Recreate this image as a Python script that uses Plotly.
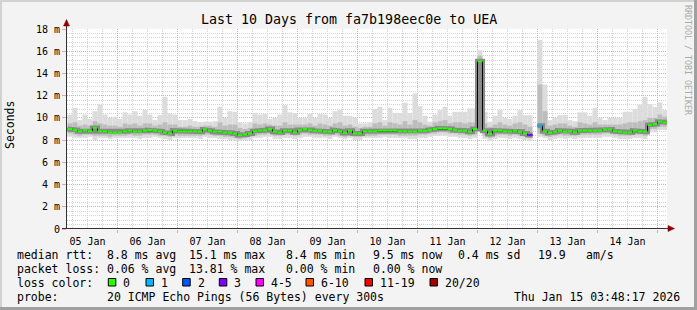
import plotly.graph_objects as go
import pandas as pd

# ---------------- data ----------------
TITLE = "Last 10 Days from fa7b198eec0e to UEA"
RANGE_START = "2026-01-05 03:48:17"
RANGE_END = "2026-01-15 03:48:17"
SAMPLE_START = "2026-01-05 04:00:00"
STEP_HOURS = 2

# median RTT per 2 h step (ms)
median_ms = [
    9.0, 8.9, 8.8, 8.9, 8.8, 9.1, 8.8, 8.8, 8.7, 8.7, 8.7, 8.8,
    8.85, 8.75, 8.75, 8.85, 8.9, 8.85, 8.8, 8.7, 8.6, 8.85, 8.8, 8.8,
    8.8, 8.8, 8.75, 8.95, 8.85, 8.75, 8.75, 8.7, 8.65, 8.6, 8.45, 8.5,
    8.6, 8.8, 8.85, 8.9, 9.0, 8.75, 8.7, 8.85, 8.85, 8.7, 8.9, 9.0,
    8.9, 8.85, 8.85, 8.75, 8.75, 8.9, 8.8, 8.65, 8.85, 8.6, 8.6, 8.8,
    8.8, 8.8, 8.85, 8.85, 8.85, 8.85, 8.8, 8.8, 8.75, 8.75, 8.85, 8.85,
    8.9, 9.0, 9.05, 9.05, 9.0, 8.9, 8.85, 8.85, 8.75, 9.0, 15.1, 8.85,
    8.55, 8.85, 8.85, 8.8, 8.75, 8.85, 8.75, 8.6, 8.45, None, 9.3, 8.8,
    8.65, 8.75, 8.85, 8.75, 8.8, 8.7, 8.85, 8.85, 8.85, 8.85, 8.85, 8.95,
    8.95, 8.8, 8.75, 8.7, 8.7, 8.85, 8.8, 8.75, 9.35, 9.45, 9.65, 9.6,
]
# lost pings out of 20 per step
loss_pings = [
    0, 0, 0, 0, 0, 0, 0, 0, 0, 0, 0, 0,
    0, 0, 0, 0, 0, 0, 0, 0, 0, 0, 0, 0,
    0, 0, 0, 0, 0, 0, 0, 0, 0, 0, 0, 0,
    0, 0, 0, 0, 0, 0, 0, 0, 0, 0, 0, 0,
    0, 0, 0, 0, 0, 0, 0, 0, 0, 0, 0, 0,
    0, 0, 0, 0, 0, 0, 0, 0, 0, 0, 0, 0,
    0, 0, 0, 0, 0, 0, 0, 0, 0, 0, 0, 0,
    0, 0, 0, 0, 0, 0, 0, 0, 3, None, 1, 0,
    0, 0, 0, 0, 0, 0, 0, 0, 0, 0, 0, 0,
    0, 0, 0, 0, 0, 0, 0, 0, 0, 0, 0, 0,
]
# smoke: fastest ping, lower/upper inner band, slowest ping (ms)
min_ms = [
    8.3, 8.2, 8.2, 8.2, 8.3, 8.0, 8.2, 8.2, 8.1, 8.2, 8.2, 8.2,
    8.2, 8.2, 8.1, 8.2, 8.2, 8.3, 8.2, 8.1, 8.0, 8.2, 8.2, 8.2,
    8.2, 8.2, 8.1, 8.3, 8.2, 8.2, 8.1, 8.1, 8.0, 7.9, 7.9, 8.0,
    8.0, 8.2, 8.2, 8.3, 8.3, 8.1, 8.1, 8.2, 8.2, 8.1, 8.2, 8.3,
    8.3, 8.2, 8.2, 8.2, 8.1, 8.3, 8.2, 8.1, 8.2, 8.0, 8.0, 8.2,
    8.2, 8.2, 8.2, 8.3, 8.2, 8.2, 8.2, 8.2, 8.1, 8.1, 8.2, 8.2,
    8.3, 8.4, 8.4, 8.4, 8.3, 8.3, 8.2, 8.2, 8.1, 8.2, 8.8, 8.1,
    7.9, 8.1, 8.2, 8.2, 8.1, 8.2, 8.1, 8.0, 7.9, None, 8.3, 8.2,
    8.0, 8.1, 8.2, 8.1, 8.2, 8.1, 8.2, 8.2, 8.2, 8.2, 8.2, 8.3,
    8.3, 8.2, 8.1, 8.1, 8.1, 8.2, 8.2, 8.1, 8.7, 8.7, 8.9, 8.9,
]
low_ms = [
    8.6, 8.5, 8.4, 8.5, 8.5, 8.4, 8.4, 8.4, 8.3, 8.4, 8.4, 8.4,
    8.5, 8.4, 8.4, 8.5, 8.5, 8.5, 8.4, 8.4, 8.3, 8.5, 8.4, 8.4,
    8.4, 8.4, 8.4, 8.5, 8.5, 8.4, 8.4, 8.3, 8.3, 8.2, 8.1, 8.2,
    8.3, 8.4, 8.5, 8.5, 8.6, 8.4, 8.4, 8.5, 8.5, 8.4, 8.5, 8.6,
    8.5, 8.5, 8.5, 8.4, 8.4, 8.5, 8.4, 8.3, 8.5, 8.3, 8.3, 8.4,
    8.4, 8.4, 8.5, 8.5, 8.5, 8.5, 8.4, 8.4, 8.4, 8.4, 8.5, 8.5,
    8.6, 8.6, 8.7, 8.7, 8.6, 8.6, 8.5, 8.5, 8.4, 8.5, 8.9, 8.4,
    8.2, 8.4, 8.5, 8.5, 8.4, 8.5, 8.4, 8.3, 8.2, None, 8.6, 8.4,
    8.3, 8.4, 8.5, 8.4, 8.4, 8.4, 8.5, 8.5, 8.5, 8.5, 8.5, 8.6,
    8.6, 8.5, 8.4, 8.4, 8.4, 8.5, 8.5, 8.4, 9.0, 9.0, 9.2, 9.2,
]
high_ms = [
    9.5, 9.6, 9.3, 9.4, 9.3, 9.7, 9.5, 9.4, 9.3, 9.3, 9.2, 9.5,
    9.4, 9.5, 9.3, 9.5, 9.5, 9.3, 9.4, 9.6, 9.4, 9.4, 9.2, 9.2,
    9.3, 9.2, 9.2, 9.3, 9.3, 9.2, 9.6, 9.3, 9.4, 9.4, 9.1, 9.0,
    9.1, 9.5, 9.4, 9.5, 9.4, 9.3, 9.3, 9.6, 9.4, 9.4, 9.4, 9.4,
    9.5, 9.3, 9.5, 9.4, 9.3, 9.5, 9.6, 9.3, 9.4, 9.2, 9.1, 9.2,
    9.2, 9.5, 9.6, 9.3, 9.6, 9.5, 9.4, 9.7, 9.4, 9.8, 9.6, 9.4,
    9.3, 9.6, 9.7, 9.8, 9.5, 9.6, 9.6, 9.5, 9.6, 9.6, 15.6, 9.5,
    9.2, 9.4, 9.6, 9.4, 9.3, 9.5, 9.6, 9.4, 9.2, None, 13.0, 10.6,
    9.3, 9.4, 9.5, 9.5, 9.3, 9.2, 9.6, 9.5, 9.4, 9.6, 9.4, 9.4,
    9.4, 9.4, 9.4, 9.5, 9.6, 9.6, 9.7, 9.8, 10.0, 10.0, 10.3, 10.1,
]
max_ms = [
    10.3, 10.9, 9.8, 10.3, 9.9, 10.6, 11.2, 10.3, 10.0, 10.1, 9.9, 10.5,
    10.3, 10.6, 10.2, 10.7, 10.3, 9.8, 10.25, 11.9, 10.4, 10.3, 9.8, 9.8,
    9.9, 9.7, 9.6, 9.65, 9.65, 9.7, 11.0, 10.0, 10.6, 10.55, 9.6, 9.5,
    9.6, 10.45, 10.3, 10.35, 9.9, 10.0, 10.3, 11.15, 10.5, 10.4, 10.0, 10.0,
    10.35, 10.0, 10.35, 10.3, 10.0, 10.6, 10.7, 10.2, 10.2, 10.0, 9.5, 9.5,
    9.6, 10.8, 11.0, 9.8, 10.9, 10.45, 10.45, 11.35, 10.45, 12.2, 11.05, 10.2,
    9.65, 10.3, 10.7, 11.0, 10.2, 10.55, 10.55, 10.55, 10.85, 10.85, 16.1, 10.55,
    9.65, 10.2, 10.7, 10.0, 9.9, 10.2, 10.7, 10.25, 10.25, None, 17.0, 13.0,
    9.8, 10.0, 10.25, 10.25, 9.8, 9.7, 10.5, 10.5, 10.2, 10.9, 10.0, 9.8,
    10.0, 10.0, 10.0, 10.55, 10.55, 10.8, 11.2, 11.9, 11.25, 11.0, 11.4, 10.7,
]

y_tick_vals = [0, 2, 4, 6, 8, 10, 12, 14, 16, 18]
y_tick_text = ["0", "2 m", "4 m", "6 m", "8 m", "10 m", "12 m", "14 m", "16 m", "18 m"]

loss_legend_labels = ["0", "1", "2", "3", "4-5", "6-10", "11-19", "20/20"]
loss_legend_colors = ["#26ff00", "#00b8ff", "#0059ff", "#7e00ff",
                      "#ff00ff", "#ff5500", "#ff0000", "#a00000"]
loss_legend_upper = [0, 1, 2, 3, 5, 10, 19, 20]

stats_rtt = ["median rtt:", "8.8 ms avg", "15.1 ms max", "8.4 ms min",
             "9.5 ms now", "0.4 ms sd", "19.9", "am/s"]
stats_loss = ["packet loss:", "0.06 % avg", "13.81 % max", "0.00 % min", "0.00 % now"]
probe_text = ["probe:", "20 ICMP Echo Pings (56 Bytes) every 300s", "Thu Jan 15 03:48:17 2026"]

# ---------------- geometry ----------------
W, H = 697, 310
ML, MR, MT, MB = 67, 30, 29, 81
PW, PH = W - ML - MR, H - MT - MB
MONO = "DejaVu Sans Mono"


def fx(p):
    return (p - ML) / PW


def fy(p):
    return (H - MB - p) / PH


step = pd.Timedelta(hours=STEP_HOURS)
n = len(median_ms)
edges = pd.date_range(SAMPLE_START, periods=n + 1, freq=f"{STEP_HOURS}h")
centers = edges[:-1] + step / 2
step_ms = STEP_HOURS * 3600 * 1000


def loss_color(l):
    for up, c in zip(loss_legend_upper, loss_legend_colors):
        if l <= up:
            return c
    return loss_legend_colors[-1]


fig = go.Figure()

# smoke bands
for lo_arr, hi_arr, col in [(min_ms, max_ms, "#dcdcdc"), (low_ms, high_ms, "#bdbdbd")]:
    fig.add_trace(go.Bar(
        x=centers, base=lo_arr,
        y=[None if (a is None or b is None) else b - a for a, b in zip(lo_arr, hi_arr)],
        width=step_ms, marker=dict(color=col, line=dict(width=0)),
        hoverinfo="skip"))

# median step path
sx, sy = [], []
for i, m in enumerate(median_ms):
    if m is None:
        sx.append(None); sy.append(None)
        continue
    sx += [edges[i], edges[i + 1]]
    sy += [m, m]
fig.add_trace(go.Scatter(x=sx, y=sy, mode="lines", line=dict(color="#8a8a8a", width=5),
                         hoverinfo="skip", connectgaps=False))
fig.add_trace(go.Scatter(x=sx, y=sy, mode="lines", line=dict(color="#000000", width=1),
                         hoverinfo="skip", connectgaps=False))

# coloured median segments by loss
groups = {}
for i, m in enumerate(median_ms):
    if m is None:
        continue
    c = loss_color(loss_pings[i])
    gx, gy = groups.setdefault(c, ([], []))
    gx += [edges[i], edges[i + 1], None]
    gy += [m, m, None]
for c, (gx, gy) in groups.items():
    fig.add_trace(go.Scatter(x=gx, y=gy, mode="lines", line=dict(color=c, width=2),
                             hoverinfo="skip"))

MAJOR_GRID = "#ff9c9c"
MINOR_GRID = "#d4d4d4"

fig.update_xaxes(
    type="date", range=[RANGE_START, RANGE_END],
    tick0="2026-01-05", dtick=86400000, ticklabelmode="period", tickformat="%d %b",
    showgrid=True, gridcolor=MAJOR_GRID, griddash="1px,1px", gridwidth=1,
    ticks="outside", ticklen=3, tickcolor=MAJOR_GRID,
    minor=dict(dtick=21600000, tick0="2026-01-05", showgrid=True, gridcolor=MINOR_GRID,
               griddash="1px,1px", ticks=""),
    showline=False, zeroline=False,
    tickfont=dict(family=MONO, size=10, color="#000000"),
)
fig.update_yaxes(
    range=[0, 18], tickvals=y_tick_vals, ticktext=y_tick_text,
    showgrid=True, gridcolor=MAJOR_GRID, griddash="1px,1px", gridwidth=1,
    ticks="outside", ticklen=4, tickcolor=MAJOR_GRID,
    minor=dict(dtick=0.4, tick0=0, showgrid=True, gridcolor=MINOR_GRID,
               griddash="1px,1px", ticks=""),
    showline=False, zeroline=False,
    tickfont=dict(family=MONO, size=10, color="#000000"),
)

shapes = []
AX = "#333333"
ARW = "#8b0000"
# axes lines
shapes.append(dict(type="line", xref="paper", yref="paper", x0=fx(66.5), x1=fx(66.5),
                   y0=fy(229), y1=fy(24), line=dict(color=AX, width=1), layer="above"))
shapes.append(dict(type="line", xref="paper", yref="paper", x0=fx(62), x1=fx(670),
                   y0=fy(228.5), y1=fy(228.5), line=dict(color=AX, width=1), layer="above"))
# arrows
shapes.append(dict(type="path", xref="paper", yref="paper",
                   path=f"M {fx(63.5)},{fy(26)} L {fx(69.5)},{fy(26)} L {fx(66.5)},{fy(19.5)} Z",
                   fillcolor=ARW, line=dict(color=ARW, width=0.5), layer="above"))
shapes.append(dict(type="path", xref="paper", yref="paper",
                   path=f"M {fx(668)},{fy(225.5)} L {fx(668)},{fy(231.5)} L {fx(674.5)},{fy(228.5)} Z",
                   fillcolor=ARW, line=dict(color=ARW, width=0.5), layer="above"))
# outer frame
shapes.append(dict(type="line", xref="paper", yref="paper", x0=fx(0), x1=fx(697),
                   y0=fy(1), y1=fy(1), line=dict(color="#d2d2d2", width=2)))
shapes.append(dict(type="line", xref="paper", yref="paper", x0=fx(1), x1=fx(1),
                   y0=fy(0), y1=fy(310), line=dict(color="#d2d2d2", width=2)))
shapes.append(dict(type="line", xref="paper", yref="paper", x0=fx(0), x1=fx(697),
                   y0=fy(308.5), y1=fy(308.5), line=dict(color="#a0a0a0", width=3)))
shapes.append(dict(type="line", xref="paper", yref="paper", x0=fx(695.5), x1=fx(695.5),
                   y0=fy(0), y1=fy(310), line=dict(color="#a0a0a0", width=3)))

annotations = []


def txt(s, x, y, size=11.5, anchor="left", color="#000000", angle=0, yanchor="middle"):
    annotations.append(dict(text=s, x=fx(x), y=fy(y), xref="paper", yref="paper",
                            xanchor=anchor, yanchor=yanchor, showarrow=False, textangle=angle,
                            font=dict(family=MONO, size=size, color=color), borderpad=0))


txt(TITLE, 348.5, 19.5, size=13.3, anchor="center")
txt("Seconds", 10, 125, size=11.5, anchor="center", angle=-90)
txt("RRDTOOL / TOBI OETIKER", 688, 60, size=8.3, anchor="center", angle=90, color="#aaaaaa")

rtt_x = [15.5, 106.3, 188.3, 285, 371.7, 457.3, 537.3, 585]
for s, x in zip(stats_rtt, rtt_x):
    txt(s, x, 254.5)
loss_x = [15.5, 106.3, 188.3, 285, 371.7]
for s, x in zip(stats_loss, loss_x):
    txt(s, x, 268.5)
txt("loss color:", 15.5, 282.5)
box_x = [108.3, 146, 182.7, 219.3, 256, 306, 365, 430]
for lab, col, bx in zip(loss_legend_labels, loss_legend_colors, box_x):
    shapes.append(dict(type="rect", xref="paper", yref="paper",
                       x0=fx(bx), x1=fx(bx + 7.5), y0=fy(278.5), y1=fy(286),
                       fillcolor=col, line=dict(color="#000000", width=1)))
    txt(lab, bx + 14, 282.5)
probe_x = [15.5, 106.3, 512.5]
for s, x in zip(probe_text, probe_x):
    txt(s, x, 296.5)

fig.update_layout(
    width=W, height=H, margin=dict(l=ML, r=MR, t=MT, b=MB, pad=0),
    paper_bgcolor="#f3f3f3", plot_bgcolor="#ffffff",
    barmode="overlay", showlegend=False, hovermode=False,
    shapes=shapes, annotations=annotations,
)

fig.write_html("out.html")
